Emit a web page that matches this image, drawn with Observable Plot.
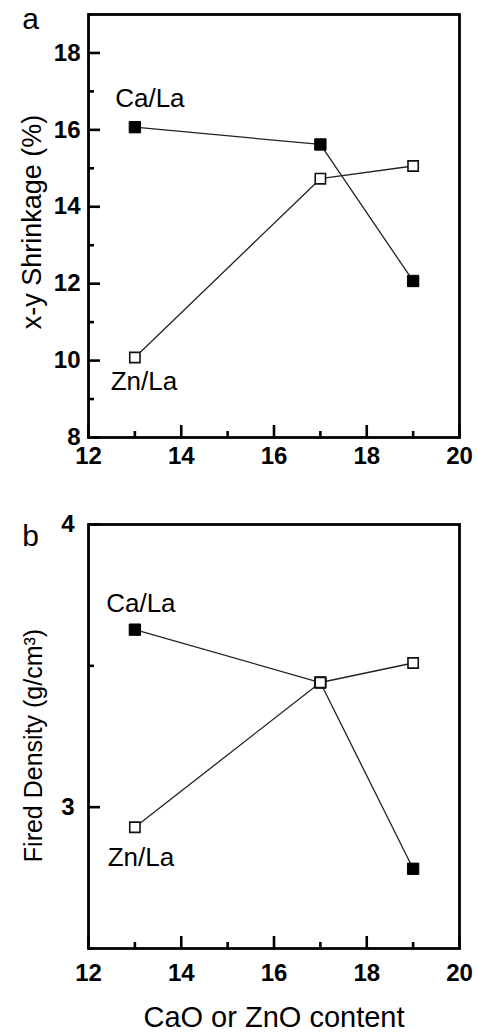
<!DOCTYPE html>
<html><head><meta charset="utf-8">
<script src="https://cdn.jsdelivr.net/npm/d3@7"></script>
<script src="https://cdn.jsdelivr.net/npm/@observablehq/plot@0.6"></script>
<style>
body{margin:0;background:#fff;color:#000;}
#chart{width:477px;}
#chart svg{display:block;background:#fff;color:#000;}
</style></head><body><div id="chart"></div>
<script>
const content = [13, 17, 19];
const shrinkageCaLa = [16.07, 15.62, 12.07];
const shrinkageZnLa = [10.08, 14.73, 15.06];
const densityCaLa = [3.628, 3.441, 2.782];
const densityZnLa = [2.929, 3.441, 3.51];
const seriesNames = ["Ca/La", "Zn/La"];
const xMajorTicks = [12, 14, 16, 18, 20];
const xMinorTicks = [13, 15, 17, 19];
const shrinkMajorTicks = [8, 10, 12, 14, 16, 18];
const shrinkMinorTicks = [9, 11, 13, 15, 17];
const densityMajorTicks = [3, 4];
const densityMinorTicks = [2.5, 3.5];
const xTitle = "CaO or ZnO content";
const yTitleA = "x-y Shrinkage (%)";
const yTitleB = "Fired Density (g/cm³)";

const FONT = "'Liberation Sans', Arial, Helvetica, sans-serif";

function rows(ys, name) { return content.map((x, i) => ({x, y: ys[i], series: name})); }

function panel(o) {
  const caRows = rows(o.ca, seriesNames[0]);
  const znRows = rows(o.zn, seriesNames[1]);
  const marks = [
    Plot.line(caRows, {x: "x", y: "y", stroke: "#222", strokeWidth: 1.3}),
    Plot.line(znRows, {x: "x", y: "y", stroke: "#222", strokeWidth: 1.3}),
    Plot.dot(caRows, {x: "x", y: "y", symbol: "square", r: 6.4, fill: "#000", stroke: "#000", strokeWidth: 1}),
    Plot.dot(znRows, {x: "x", y: "y", symbol: "square", r: 5.8, fill: "#fff", stroke: "#111", strokeWidth: 1.6}),
    Plot.text([caRows[0]], {x: "x", y: "y", text: "series", dx: o.caDx, dy: o.caDy, lineAnchor: "bottom", fontSize: 26, fill: "#000"}),
    Plot.text([znRows[0]], {x: "x", y: "y", text: "series", dx: o.znDx, dy: o.znDy, lineAnchor: "bottom", fontSize: 26, fill: "#000"}),
    Plot.axisX({ticks: xMajorTicks, tickSize: -12, text: null, strokeWidth: 2.6, label: null}),
    Plot.axisX({ticks: xMinorTicks, tickSize: -6, text: null, strokeWidth: 2.6, label: null}),
    Plot.axisX({ticks: xMajorTicks, tickSize: 0, tickPadding: o.xPad, fontSize: 24, fontWeight: "bold", label: null, tickFormat: d => String(d)}),
    Plot.axisY({ticks: o.yMajor, tickSize: -12, text: null, strokeWidth: 2.6, label: null}),
    Plot.axisY({ticks: o.yMinor, tickSize: -6, text: null, strokeWidth: 2.6, label: null}),
    Plot.axisY({ticks: o.yMajor, tickSize: 0, tickPadding: o.yPad, fontSize: 24, fontWeight: "bold", label: null, tickFormat: d => String(d)}),
    Plot.frame({stroke: "#000", strokeWidth: 2.8}),
    Plot.text([o.yTitle], {text: d => d, frameAnchor: "left", dx: o.yTitleDx, dy: o.yTitleDy, rotate: -90, textAnchor: "middle", lineAnchor: "middle", fontSize: o.yTitleSize, fill: "#000"}),
    Plot.text([o.letter], {text: d => d, frameAnchor: "top-left", dx: -58, dy: o.letterDy, textAnchor: "middle", lineAnchor: "bottom", fontSize: 30, fill: "#000"})
  ];
  if (o.xTitle) {
    marks.push(Plot.text([o.xTitle], {text: d => d, frameAnchor: "bottom", dy: 78, textAnchor: "middle", lineAnchor: "bottom", fontSize: 29, fill: "#000"}));
  }
  return Plot.plot({
    width: 477,
    height: o.height,
    marginTop: o.mt,
    marginBottom: o.mb,
    marginLeft: 88,
    marginRight: 18,
    style: {fontFamily: FONT, background: "#fff", color: "#000", overflow: "visible"},
    x: {domain: [12, 20]},
    y: {domain: o.yDomain},
    marks
  });
}

const chart = document.getElementById("chart");
chart.appendChild(panel({
  ca: shrinkageCaLa, zn: shrinkageZnLa,
  yDomain: [8, 19], yMajor: shrinkMajorTicks, yMinor: shrinkMinorTicks,
  height: 470, mt: 14, mb: 33,
  xPad: 9, yPad: 8,
  caDx: 15, caDy: -20, znDx: 9, znDy: 32,
  yTitle: yTitleA, yTitleDx: -56, yTitleDy: -4, yTitleSize: 27,
  letter: "a", letterDy: 14
}));
chart.appendChild(panel({
  ca: densityCaLa, zn: densityZnLa,
  yDomain: [2.5, 4], yMajor: densityMajorTicks, yMinor: densityMinorTicks,
  height: 563, mt: 54, mb: 85,
  xPad: 15, yPad: 14,
  caDx: 6, caDy: -18, znDx: 6, znDy: 39,
  yTitle: yTitleB, yTitleDx: -55, yTitleDy: 9, yTitleSize: 25,
  letter: "b", letterDy: 21,
  xTitle: xTitle
}));
</script></body></html>
